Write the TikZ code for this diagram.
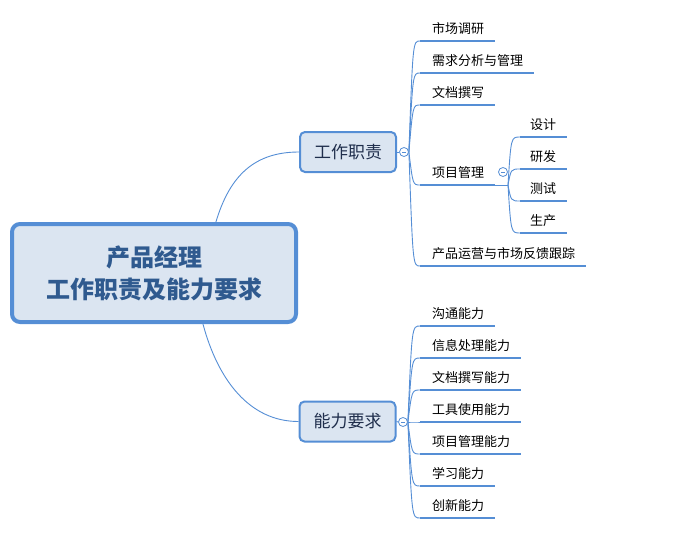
\documentclass[tikz,border=0pt]{standalone}
\usepackage{fontspec}
\setmainfont{Noto Sans CJK SC}
\usetikzlibrary{calc,backgrounds}
\definecolor{lineblue}{HTML}{558ED5}
\definecolor{boxfill}{HTML}{DBE5F1}
\definecolor{roottext}{HTML}{2F5A8F}
\definecolor{branchtext}{HTML}{1F2E4C}
\tikzset{
 conn/.style={draw=lineblue, line width=0.9pt},
 uline/.style={draw=lineblue, line width=2.6pt},
 rootbox/.style={draw=lineblue, line width=4pt, fill=boxfill, rounded corners=8pt, minimum width=284pt, minimum height=98pt, align=center, font=\fontsize{24}{32}\selectfont\bfseries, text=roottext},
 branch/.style={draw=lineblue, line width=2pt, fill=boxfill, rounded corners=5pt, minimum width=96pt, minimum height=40pt, font=\fontsize{17}{20}\selectfont, text=branchtext},
 toggle/.style={circle, draw=lineblue, line width=0.8pt, fill=white, minimum size=9pt, inner sep=0pt, path picture={\draw[lineblue, line width=0.8pt] ([xshift=-2.2pt]path picture bounding box.center) -- ([xshift=2.2pt]path picture bounding box.center);}},
 leafbase/.style={anchor=south west, inner sep=0pt, text height=12pt, text depth=7pt, font=\fontsize{13}{15}\selectfont, text=black, execute at end node={\hspace*{11pt}}},
 leaf/.style={leafbase, execute at begin node={\hspace*{12pt}}},
 subleaf/.style={leafbase, execute at begin node={\hspace*{10pt}}},
}
\begin{document}
\begin{tikzpicture}[x=1pt,y=-1pt]
\useasboundingbox (0,0) rectangle (680,535);
% root and branches
\node[rootbox] (root) at (154,273) {产品经理\\工作职责及能力要求};
\node[branch] (b1) at (348,152) {工作职责};
\node[branch] (b2) at (347.5,421.5) {能力要求};
\node[toggle] (c1) at (404,152) {};
\node[toggle] (c2) at (403,422) {};
% leaves of b1
\node[leaf] (l11) at (420,41) {市场调研};
\node[leaf] (l12) at (420,73) {需求分析与管理};
\node[leaf] (l13) at (420,105) {文档撰写};
\node[leaf] (l14) at (420,185) {项目管理};
\node[leaf] (l15) at (420,266) {产品运营与市场反馈跟踪};
\coordinate (fork) at (508,185);
\node[toggle] (c3) at (503,172) {};
\node[subleaf] (s1) at (520,137) {设计};
\node[subleaf] (s2) at (520,169) {研发};
\node[subleaf] (s3) at (520,201) {测试};
\node[subleaf] (s4) at (520,233) {生产};
% leaves of b2
\node[leaf] (l21) at (420,326) {沟通能力};
\node[leaf] (l22) at (420,358) {信息处理能力};
\node[leaf] (l23) at (420,390) {文档撰写能力};
\node[leaf] (l24) at (420,422) {工具使用能力};
\node[leaf] (l25) at (420,454) {项目管理能力};
\node[leaf] (l26) at (420,486) {学习能力};
\node[leaf] (l27) at (420,518) {创新能力};
\begin{scope}[on background layer]
\draw[conn] ($(root.north west)!0.715!(root.north east)$) .. controls +(14,-47) and +(-44,0) .. (b1.west);
\draw[conn] ($(root.south west)!0.67!(root.south east)$) .. controls +(15,56) and +(-49,0) .. (b2.west);
\draw[conn] (b1.east) -- (c1.west);
\draw[conn] (b2.east) -- (c2.west);
\foreach \n in {l11,l12,l13,l14,l15}
  \draw[conn] (c1.east) .. controls ($(c1.east |- \n.south west)+(4,0)$) .. (\n.south west);
\foreach \n in {l21,l22,l23,l24,l25,l26,l27}
  \draw[conn] (c2.east) .. controls ($(c2.east |- \n.south west)+(4,0)$) .. (\n.south west);
\draw[conn] (l14.south east) -- (fork);
\foreach \n in {s1,s2,s3,s4}
  \draw[conn] (fork) .. controls ($(fork |- \n.south west)+(3,0)$) .. (\n.south west);
\end{scope}
\foreach \n in {l11,l12,l13,l14,l15,l21,l22,l23,l24,l25,l26,l27,s1,s2,s3,s4}
  \draw[uline] (\n.south west) -- (\n.south east);
\end{tikzpicture}
\end{document}
